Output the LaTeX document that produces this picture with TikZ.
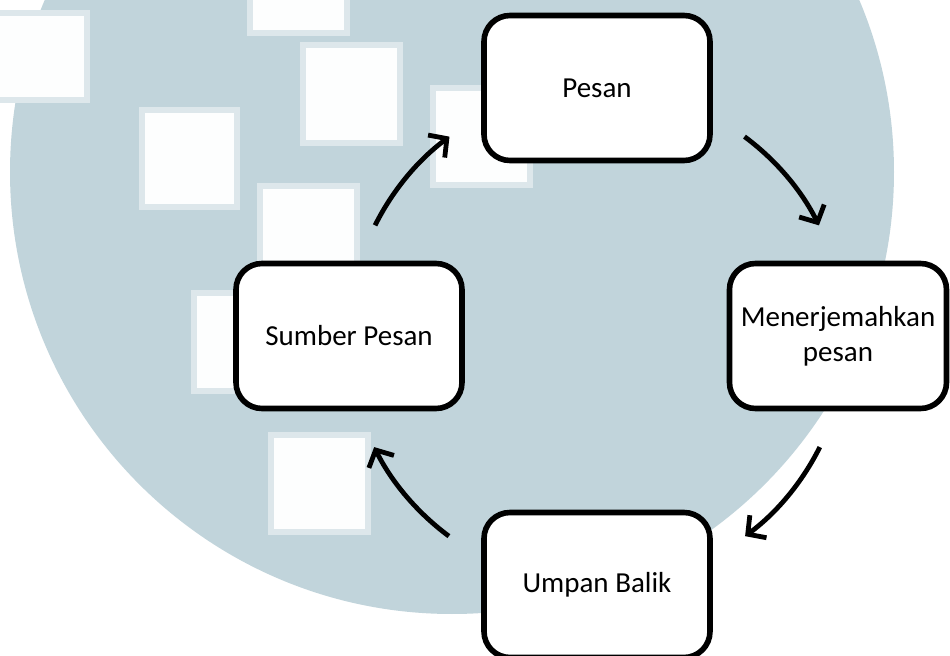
\documentclass[tikz,border=0pt]{standalone}
\usepackage{fontspec}
\setmainfont{Carlito}
\usetikzlibrary{arrows.meta,calc}
\definecolor{wmblue}{RGB}{193,212,219}
\begin{document}
\begin{tikzpicture}[x=0.5pt, y=0.5pt,
                    font=\fontsize{14.5}{17.5}\selectfont,
                    every node/.style={draw=none},
                    stage/.style={rectangle, rounded corners=13pt, draw=black,
                                  line width=2.8pt, fill=white, align=center,
                                  minimum width=113pt, minimum height=72.5pt, inner sep=2pt},
                    flow/.style={-{Straight Barb[length=6.5pt,width=14pt]}, line width=2.4pt},
                    tile/.style={fill=white!97!wmblue, draw=white!45!wmblue, line width=3pt}]
  % page and watermark
  \clip (0,0) rectangle (950,655);
  \fill[white] (0,0) rectangle (950,655);
  \fill[wmblue] (452,483) circle[radius=442];
  \filldraw[tile] (250,622) rectangle (347,715);
  \filldraw[tile] (303,512) rectangle (400,610);
  \filldraw[tile] (142,448) rectangle (237,545);
  \filldraw[tile] (260,372) rectangle (357,469);
  \filldraw[tile] (433,470) rectangle (530,567);
  \filldraw[tile] (-10,555) rectangle (87,642);
  \filldraw[tile] (194,264) rectangle (291,362);
  \filldraw[tile] (271,123) rectangle (368,220);

  % cycle
  \coordinate (hub) at (597,319);
  \node[stage] (pesan)  at (597,567) {Pesan};
  \node[stage] (sumber) at (349,319) {Sumber Pesan};
  \node[stage, minimum width=108.5pt] (terjemah) at (838,319) {Menerjemahkan\\pesan};
  \node[stage] (balik)  at (597,70)  {Umpan Balik};

  \draw[flow] ($(hub)!1!-26.5:(sumber)$) arc[start angle=153.5, end angle=126.5, radius=248];
  \draw[flow] ($(hub)!1!-36.5:(pesan)$)  arc[start angle=53.5,  end angle=26.5,  radius=248];
  \draw[flow] ($(hub)!1!63.5:(balik)$)   arc[start angle=-26.5, end angle=-53.5, radius=249];
  \draw[flow] ($(hub)!1!-36.5:(balik)$)  arc[start angle=-126.5, end angle=-153.5, radius=249];
\end{tikzpicture}
\end{document}
